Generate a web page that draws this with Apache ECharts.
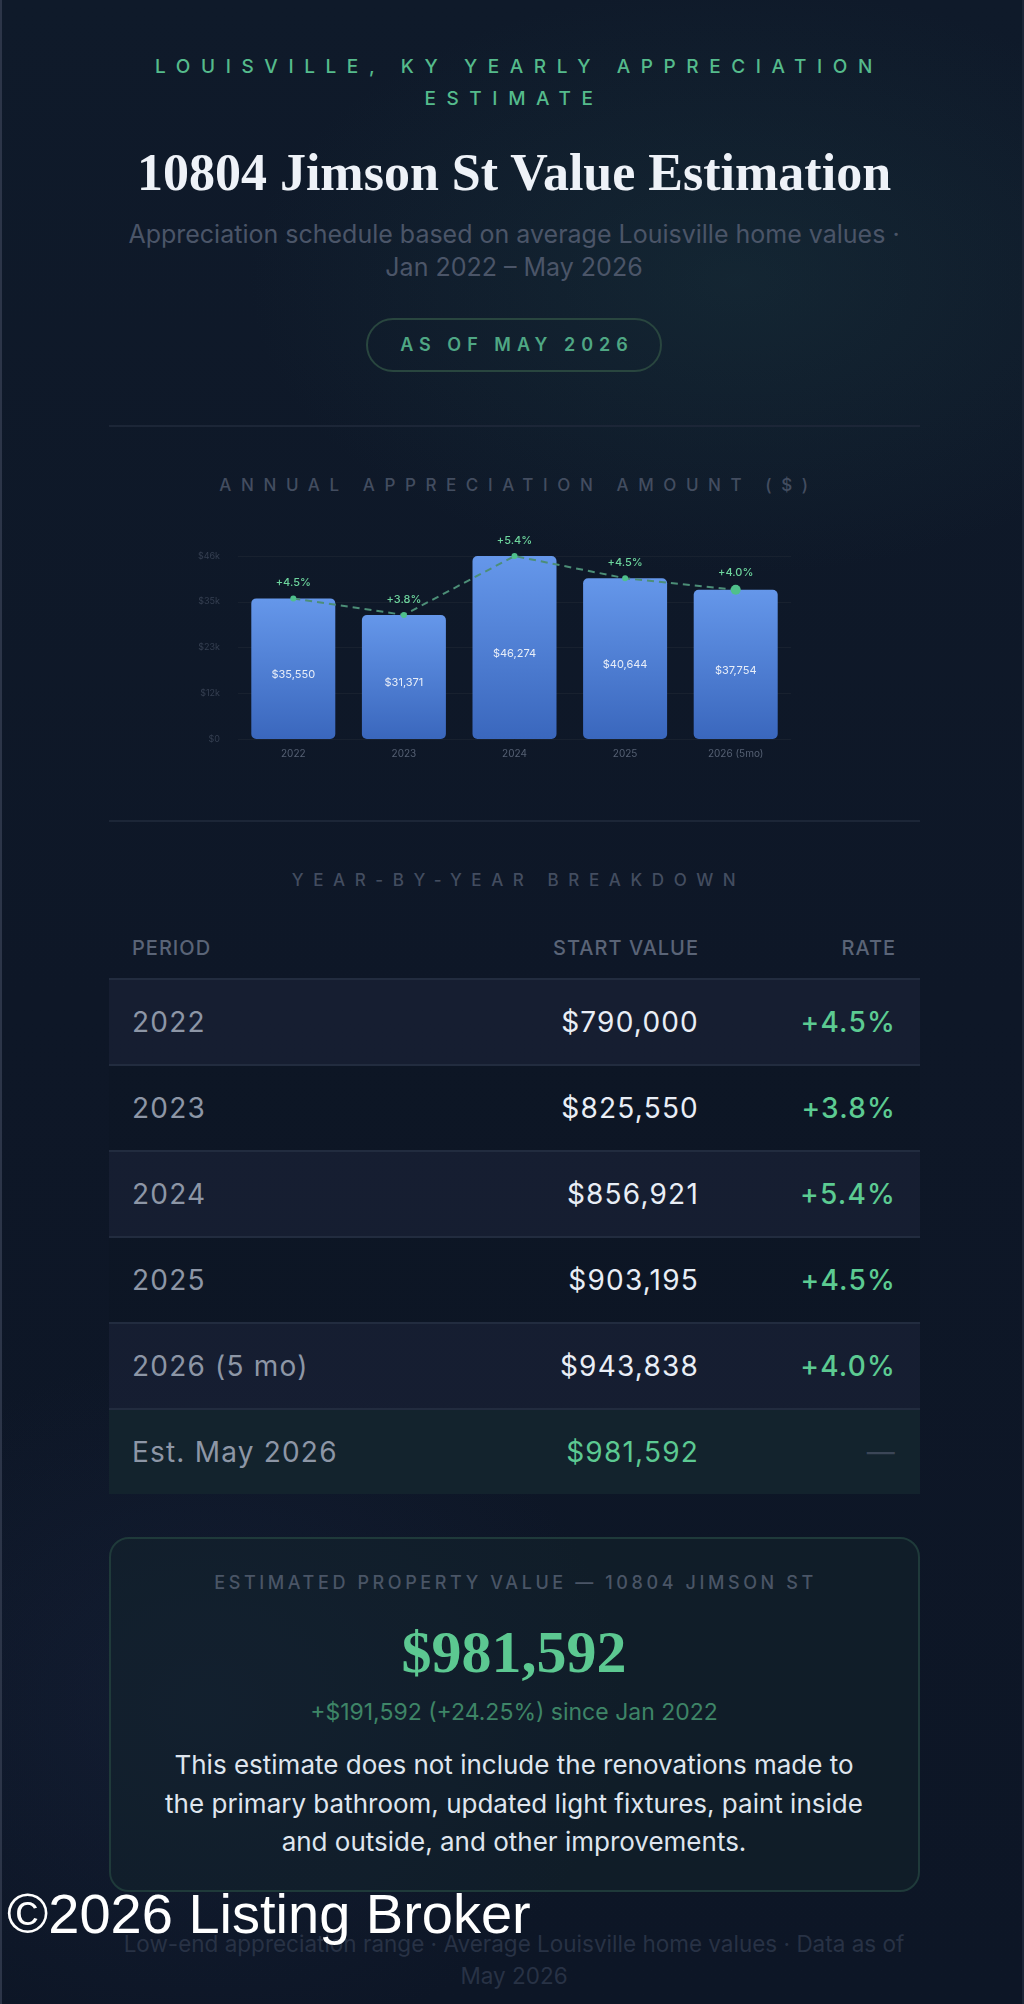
<!DOCTYPE html>
<html>
<head>
<meta charset="utf-8">
<script src="https://cdn.jsdelivr.net/npm/echarts@6/dist/echarts.min.js"></script>
<style>
  html, body { margin: 0; padding: 0; }
  body {
    width: 1024px; height: 2004px; overflow: hidden; position: relative;
    background:
      radial-gradient(ellipse 700px 420px at 72% 14%, rgba(34, 74, 78, 0.26), rgba(0,0,0,0) 70%),
      radial-gradient(ellipse 600px 500px at 20% 85%, rgba(28, 40, 70, 0.35), rgba(0,0,0,0) 70%),
      linear-gradient(180deg, #0f1a2a 0%, #0e1727 50%, #0d1626 100%);
    font-family: Inter, "Noto Sans", sans-serif;
    border-left: 2px solid #2c3548; border-right: 2px solid #1c2536; box-sizing: border-box;
  }
  .abs { position: absolute; left: 0; width: 1024px; text-align: center; white-space: nowrap; }
  .eyebrow { color: #55bb8c; font-size: 19px; font-weight: 500; letter-spacing: 10.6px; text-indent: 10px; line-height: 32px; top: 51px; }
  .title { top: 145px; font-family: "Liberation Serif", "DejaVu Serif", serif; font-weight: 700; font-size: 52px; color: #eef2f8; line-height: 56px; }
  .sub { top: 218px; color: #4b5568; font-size: 25px; line-height: 33px; }
  .pill { position: absolute; left: 364px; top: 318px; width: 296px; height: 54px; box-sizing: border-box;
    border: 2px solid #29463f; border-radius: 28px; color: #4fa784; font-size: 18px; font-weight: 600;
    letter-spacing: 6px; text-align: center; line-height: 50px; text-indent: 6px; }
  .divider { position: absolute; left: 107px; width: 811px; height: 2px; background: #1c2637; }
  .section { color: #434d60; font-size: 17px; font-weight: 500; letter-spacing: 9.6px; line-height: 24px; text-indent: 9px; }
  #chart { position: absolute; left: 0; top: 530px; width: 1024px; height: 250px; }
  table { position: absolute; left: 107px; top: 918px; width: 811px; border-collapse: collapse; }
  th { color: #5a6477; font-size: 20px; font-weight: 500; letter-spacing: 1px; height: 60px; padding: 0 24px 0 23px; text-align: right; }
  th:first-child, td:first-child { text-align: left; }
  td { height: 84px; padding: 0 24px 0 23px; font-size: 28px; letter-spacing: 1.2px; border-top: 2px solid #222c3f; text-align: right; }
  tr.odd td { background: rgba(30, 36, 58, 0.55); }
  tr.even td { background: rgba(12, 20, 34, 0.35); }
  tr.est td { background: #13232d; }
  td.period { color: #8d96a6; }
  td.start { color: #e9eef6; }
  td.rate { color: #5ccb92; font-weight: 500; }
  td.est-val { color: #5cc992; }
  td.dash { color: #3b4657; }
  .card { position: absolute; left: 107px; top: 1537px; width: 811px; height: 355px; box-sizing: border-box;
    border: 2px solid #1f3a3a; border-radius: 20px; background: rgba(19, 38, 44, 0.45); }
  .card-label { top: 1571px; color: #4a5566; font-size: 18px; font-weight: 500; letter-spacing: 3.6px; text-indent: 3px; line-height: 24px; }
  .big { top: 1620px; font-family: "Liberation Serif", "DejaVu Serif", serif; font-weight: 700; font-size: 60px; color: #5cc891; line-height: 64px; }
  .gain { top: 1698px; color: #3e8567; font-size: 23px; line-height: 28px; }
  .para { top: 1746px; color: #dfe5ee; font-size: 26px; line-height: 38.5px; }
  .foot { top: 1928px; color: #283245; font-size: 22.5px; line-height: 32px; }
  .mark { position: absolute; left: 5px; top: 1882px; color: #ffffff; font-family: "Liberation Sans", Arial, sans-serif; font-size: 56px; line-height: 64px; white-space: nowrap; }
</style>
</head>
<body>
<div class="abs eyebrow">LOUISVILLE, KY YEARLY APPRECIATION<br>ESTIMATE</div>
<div class="abs title">10804 Jimson St Value Estimation</div>
<div class="abs sub">Appreciation schedule based on average Louisville home values ·<br>Jan 2022 – May 2026</div>
<div class="pill">AS OF MAY 2026</div>
<div class="divider" style="top:425px"></div>
<div class="abs section" style="top:473px">ANNUAL APPRECIATION AMOUNT ($)</div>
<div id="chart"></div>
<div class="divider" style="top:820px"></div>
<div class="abs section" style="top:868px">YEAR-BY-YEAR BREAKDOWN</div>
<table id="breakdown"></table>
<div class="card"></div>
<div class="abs card-label">ESTIMATED PROPERTY VALUE — 10804 JIMSON ST</div>
<div class="abs big" id="bigValue"></div>
<div class="abs gain" id="gain"></div>
<div class="abs para">This estimate does not include the renovations made to<br>the primary bathroom, updated light fixtures, paint inside<br>and outside, and other improvements.</div>
<div class="abs foot">Low-end appreciation range · Average Louisville home values · Data as of<br>May 2026</div>
<div class="mark">©2026 Listing Broker</div>

<script>
// chart data
const years = ['2022', '2023', '2024', '2025', '2026 (5mo)']
const appreciation = [35550, 31371, 46274, 40644, 37754]
const rates = [4.5, 3.8, 5.4, 4.5, 4.0]

// table data
const periods = ['2022', '2023', '2024', '2025', '2026 (5 mo)']
const startValues = [790000, 825550, 856921, 903195, 943838]
const estLabel = 'Est. May 2026'
const estValue = 981592

const money = v => '$' + v.toLocaleString('en-US')
const pct = v => '+' + v.toFixed(1) + '%'

// breakdown table
let rows = '<tr><th>PERIOD</th><th>START VALUE</th><th>RATE</th></tr>'
periods.forEach((p, i) => {
  rows += '<tr class="' + (i % 2 === 0 ? 'odd' : 'even') + '">' +
    '<td class="period">' + p + '</td>' +
    '<td class="start">' + money(startValues[i]) + '</td>' +
    '<td class="rate">' + pct(rates[i]) + '</td></tr>'
})
rows += '<tr class="est"><td class="period">' + estLabel + '</td><td class="est-val">' + money(estValue) + '</td><td class="dash">—</td></tr>'
document.getElementById('breakdown').innerHTML = rows

const gainAmt = estValue - startValues[0]
document.getElementById('bigValue').textContent = money(estValue)
document.getElementById('gain').textContent =
  '+' + money(gainAmt) + ' (+' + (gainAmt / startValues[0] * 100).toFixed(2) + '%) since Jan 2022'

// chart
const yMax = Math.max(...appreciation)
const myChart = echarts.init(document.getElementById('chart'), null, { renderer: 'canvas' })
myChart.setOption({
  animation: false,
  grid: { left: 236, right: 235, top: 26, bottom: 41 },
  xAxis: {
    type: 'category',
    data: years,
    axisLine: { show: false },
    axisTick: { show: false },
    axisLabel: { color: '#556073', fontSize: 10, margin: 10, fontFamily: 'Inter' }
  },
  yAxis: {
    type: 'value',
    min: 0,
    max: yMax,
    interval: yMax / 4,
    axisLabel: {
      color: '#353f51', fontSize: 9, margin: 18, fontFamily: 'Inter',
      formatter: v => '$' + Math.round(v / 1000) + (v === 0 ? '' : 'k')
    },
    splitLine: { lineStyle: { color: '#18212f', width: 1 } }
  },
  series: [{
    type: 'bar',
    data: appreciation,
    barWidth: 84,
    itemStyle: {
      borderRadius: 5,
      color: new echarts.graphic.LinearGradient(0, 0, 0, 1, [
        { offset: 0, color: '#6597ea' },
        { offset: 1, color: '#3a67bd' }
      ])
    },
    label: {
      show: true,
      position: 'inside',
      offset: [0, 6],
      color: '#e8eef8',
      fontSize: 11,
      fontFamily: 'Inter',
      formatter: p => money(p.value)
    }
  }, {
    type: 'line',
    data: appreciation.map((v, i) => ({ value: v, symbolSize: i === appreciation.length - 1 ? 10 : 6 })),
    symbol: 'circle',
    z: 5,
    lineStyle: { color: '#4c8e77', width: 2, type: [7, 5] },
    itemStyle: { color: '#4fc08b' },
    label: {
      show: true,
      position: 'top',
      distance: 7,
      color: '#6dd59d',
      fontSize: 11,
      fontWeight: 500,
      fontFamily: 'Inter',
      formatter: p => pct(rates[p.dataIndex])
    }
  }]
})
</script>
</body>
</html>
